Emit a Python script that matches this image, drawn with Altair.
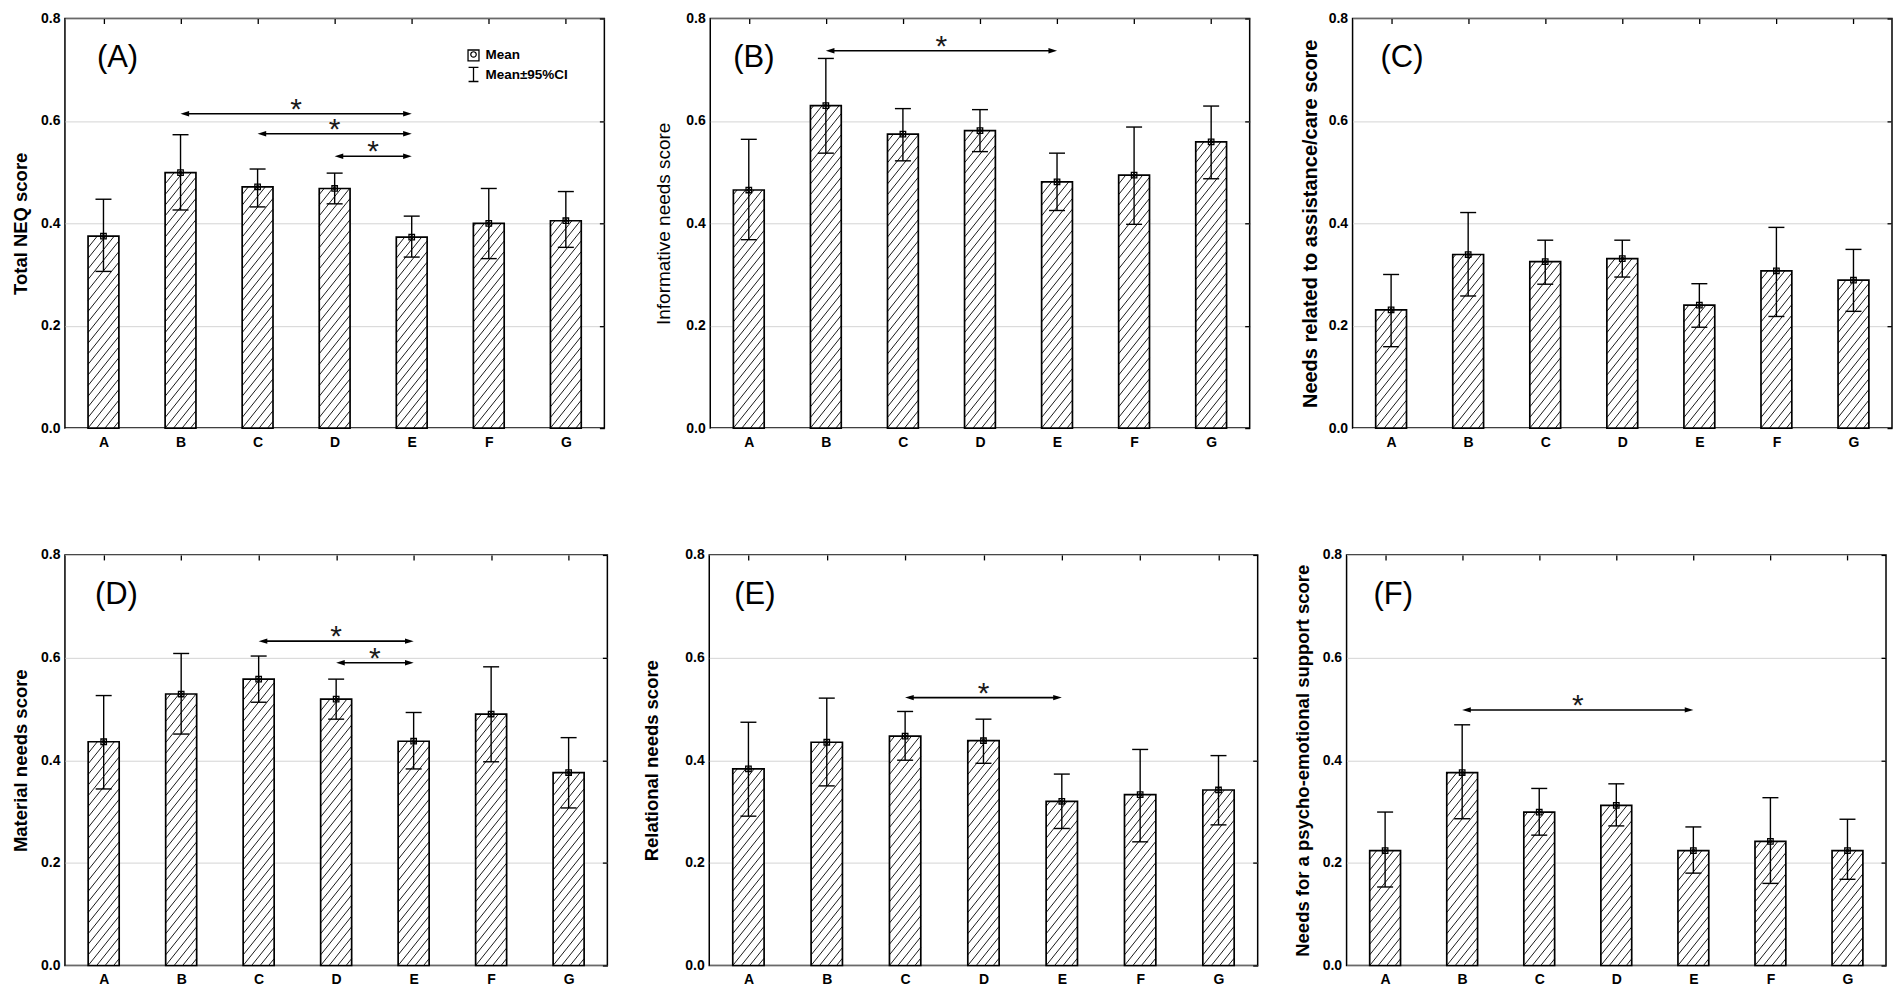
import altair as alt
import pandas as pd
import numpy as np

groups = ["A", "B", "C", "D", "E", "F", "G"]

panel_tags = ["(A)", "(B)", "(C)", "(D)", "(E)", "(F)"]
y_titles = [
    "Total NEQ score",
    "Informative needs score",
    "Needs related to assistance/care score",
    "Material needs score",
    "Relational needs score",
    "Needs for a psycho-emotional support score",
]

mean_total = [0.375, 0.499, 0.471, 0.468, 0.373, 0.400, 0.405]
lo_total = [0.306, 0.426, 0.432, 0.438, 0.334, 0.331, 0.353]
hi_total = [0.447, 0.573, 0.506, 0.498, 0.414, 0.468, 0.462]

mean_info = [0.465, 0.630, 0.574, 0.581, 0.481, 0.494, 0.559]
lo_info = [0.368, 0.537, 0.522, 0.540, 0.425, 0.398, 0.487]
hi_info = [0.564, 0.722, 0.624, 0.622, 0.537, 0.588, 0.629]

mean_care = [0.231, 0.339, 0.325, 0.331, 0.240, 0.307, 0.289]
lo_care = [0.159, 0.258, 0.281, 0.295, 0.197, 0.218, 0.228]
hi_care = [0.300, 0.421, 0.367, 0.367, 0.282, 0.392, 0.349]

mean_mat = [0.436, 0.529, 0.558, 0.519, 0.437, 0.490, 0.376]
lo_mat = [0.344, 0.451, 0.513, 0.480, 0.383, 0.397, 0.307]
hi_mat = [0.526, 0.608, 0.603, 0.558, 0.493, 0.582, 0.444]

mean_rel = [0.383, 0.435, 0.447, 0.438, 0.320, 0.333, 0.342]
lo_rel = [0.291, 0.350, 0.400, 0.394, 0.267, 0.241, 0.274]
hi_rel = [0.474, 0.521, 0.495, 0.480, 0.373, 0.421, 0.409]

mean_psy = [0.224, 0.376, 0.299, 0.312, 0.224, 0.242, 0.224]
lo_psy = [0.153, 0.286, 0.254, 0.272, 0.180, 0.160, 0.168]
hi_psy = [0.299, 0.469, 0.345, 0.354, 0.270, 0.327, 0.285]

# significant comparisons: (from group, to group, arrow height)
sig_total = [("B", "E", 0.614), ("C", "E", 0.575), ("D", "E", 0.531)]
sig_info = [("B", "E", 0.737)]
sig_care = []
sig_mat = [("C", "E", 0.632), ("D", "E", 0.590)]
sig_rel = [("C", "E", 0.522)]
sig_psy = [("B", "E", 0.498)]

legend_labels = ["Mean", "Mean±95%CI"]

FONT = "Liberation Sans"
YMAX = 0.8
BAR_HALF = 0.2
HATCH_K = 1.25
HATCH_SX = 8.5

label_expr = "[" + ",".join("'%s'" % g for g in groups) + "][datum.value]"
xs = alt.Scale(domain=[-0.5, len(groups) - 0.5], nice=False, zero=False)
ys = alt.Scale(domain=[0, YMAX], nice=False)
tick_vals = [0.0, 0.2, 0.4, 0.6, 0.8]

ARROW_L = "M-1,0L1,-0.62L1,0.62Z"
ARROW_R = "M1,0L-1,-0.62L-1,0.62Z"
IBEAM = "M-0.7,-1L0.7,-1M0,-1L0,1M-0.7,1L0.7,1"


def hatch_rows(means, pxx, pxy):
    rows = []
    bw = 2 * BAR_HALF * pxx
    sy = HATCH_SX * HATCH_K
    for i, m in enumerate(means):
        hp = m * pxy
        jmin = int(np.floor(-HATCH_K * bw / sy)) - 1
        jmax = int(np.ceil(hp / sy)) + 1
        for j in range(jmin, jmax + 1):
            c = j * sy
            xa = max(0.0, -c / HATCH_K)
            xb = min(bw, (hp - c) / HATCH_K)
            if xb - xa > 0.4:
                rows.append(dict(
                    xa=i - BAR_HALF + xa / pxx, xb=i - BAR_HALF + xb / pxx,
                    ya=(c + HATCH_K * xa) / pxy, yb=(c + HATCH_K * xb) / pxy))
    return pd.DataFrame(rows)


def panel(k, means, los, his, sigs, tsize, tweight, tpad, tagx, W, H, legend=False):
    pxx = W / len(groups)
    pxy = H / YMAX
    cap_half = 8 / pxx
    head = 4.3 / pxx
    df = pd.DataFrame({"g": groups, "i": list(range(len(groups))),
                       "mean": means, "lo": los, "hi": his})
    df["x0"] = df["i"] - BAR_HALF
    df["x1"] = df["i"] + BAR_HALF
    df["c0"] = df["i"] - cap_half
    df["c1"] = df["i"] + cap_half

    yaxis = alt.Axis(values=tick_vals, format=".1f", title=y_titles[k],
                     titleFontSize=tsize, titleFontWeight=tweight, titleColor="black",
                     titleFont=FONT, titlePadding=tpad,
                     labelFontSize=14, labelFontWeight="bold", labelColor="black",
                     labelFont=FONT, labelPadding=5, ticks=False, domain=False,
                     grid=True, gridColor="#d4d4d4", gridWidth=1)
    xaxis = alt.Axis(values=list(range(len(groups))), labelExpr=label_expr, title=None,
                     labelFontSize=14, labelFontWeight="bold", labelColor="black",
                     labelFont=FONT, labelPadding=7, ticks=False, domain=False, grid=False)

    base = alt.Chart(df)
    bars = base.mark_rect(fill="white", strokeWidth=0).encode(
        x=alt.X("x0:Q", scale=xs, axis=xaxis), x2="x1:Q",
        y=alt.Y("mean:Q", scale=ys, axis=yaxis), y2=alt.datum(0))

    hatch = alt.Chart(hatch_rows(means, pxx, pxy)).mark_rule(
        color="black", strokeWidth=0.9).encode(
        x=alt.X("xa:Q", scale=xs, axis=None), x2="xb:Q",
        y=alt.Y("ya:Q", scale=ys, axis=None), y2="yb:Q")

    outline = base.mark_rect(fill="white", fillOpacity=0, stroke="black",
                             strokeWidth=1.7).encode(
        x=alt.X("x0:Q", scale=xs, axis=None), x2="x1:Q",
        y=alt.Y("mean:Q", scale=ys, axis=None), y2=alt.datum(0))

    err = base.mark_rule(color="black", strokeWidth=1.4).encode(
        x=alt.X("i:Q", scale=xs, axis=alt.Axis(orient="top", values=list(range(len(groups))),
                                                labels=False, domain=False, grid=False,
                                                tickSize=5, offset=-5, tickColor="black",
                                                tickWidth=1.3, title=None)),
        y=alt.Y("lo:Q", scale=ys, axis=alt.Axis(orient="right", values=tick_vals,
                                                 labels=False, domain=False, grid=False,
                                                 tickSize=5, offset=-5, tickColor="black",
                                                 tickWidth=1.3, title=None)),
        y2="hi:Q")
    cap_hi = base.mark_rule(color="black", strokeWidth=1.4).encode(
        x=alt.X("c0:Q", scale=xs, axis=None), x2="c1:Q",
        y=alt.Y("hi:Q", scale=ys, axis=None))
    cap_lo = base.mark_rule(color="black", strokeWidth=1.4).encode(
        x=alt.X("c0:Q", scale=xs, axis=None), x2="c1:Q",
        y=alt.Y("lo:Q", scale=ys, axis=None))
    msq = base.mark_point(shape="square", size=30, filled=False, color="black",
                          strokeWidth=1.3, opacity=1).encode(
        x=alt.X("i:Q", scale=xs, axis=None), y=alt.Y("mean:Q", scale=ys, axis=None))
    mci = base.mark_point(shape="circle", size=10, filled=False, color="black",
                          strokeWidth=1, opacity=1).encode(
        x=alt.X("i:Q", scale=xs, axis=None), y=alt.Y("mean:Q", scale=ys, axis=None))

    tag = alt.Chart(pd.DataFrame({"t": [panel_tags[k]]})).mark_text(
        font=FONT, fontSize=31, align="left", baseline="middle", color="black").encode(
        text="t:N", x=alt.value(tagx), y=alt.value(40))

    layers = [bars, hatch, outline, err, cap_hi, cap_lo, msq, mci, tag]

    if sigs:
        sdf = pd.DataFrame(sigs, columns=["a", "b", "y"])
        sdf["xa"] = [groups.index(a) + head for a in sdf["a"]]
        sdf["xb"] = [groups.index(b) - head for b in sdf["b"]]
        sdf["xm"] = (sdf["xa"] + sdf["xb"]) / 2
        sdf["star"] = "*"
        sb = alt.Chart(sdf)
        layers.append(sb.mark_rule(color="black", strokeWidth=1.6).encode(
            x=alt.X("xa:Q", scale=xs, axis=None), x2="xb:Q",
            y=alt.Y("y:Q", scale=ys, axis=None)))
        layers.append(sb.mark_point(shape=ARROW_L, size=75, filled=True,
                                    color="black", opacity=1).encode(
            x=alt.X("xa:Q", scale=xs, axis=None), y=alt.Y("y:Q", scale=ys, axis=None)))
        layers.append(sb.mark_point(shape=ARROW_R, size=75, filled=True,
                                    color="black", opacity=1).encode(
            x=alt.X("xb:Q", scale=xs, axis=None), y=alt.Y("y:Q", scale=ys, axis=None)))
        layers.append(sb.mark_text(font=FONT, fontSize=30, baseline="alphabetic",
                                   align="center", dy=5, color="#1a1a1a").encode(
            x=alt.X("xm:Q", scale=xs, axis=None), y=alt.Y("y:Q", scale=ys, axis=None),
            text="star:N"))

    if legend:
        ldf = pd.DataFrame({"t": legend_labels})
        l0 = alt.Chart(ldf.iloc[[0]])
        l1 = alt.Chart(ldf.iloc[[1]])
        layers.append(l0.mark_point(
            shape="square", size=120, filled=False, color="black", strokeWidth=1.3,
            opacity=1).encode(x=alt.value(409), y=alt.value(37)))
        layers.append(l0.mark_point(
            shape="circle", size=30, filled=False, color="black", strokeWidth=1.2,
            opacity=1).encode(x=alt.value(409), y=alt.value(36)))
        layers.append(l1.mark_point(
            shape=IBEAM, size=200, filled=False, color="black", strokeWidth=1.3,
            opacity=1).encode(x=alt.value(409), y=alt.value(56)))
        layers.append(l0.mark_text(font=FONT, fontSize=13.5, fontWeight="bold",
                                   align="left", baseline="middle", color="black").encode(
            text="t:N", x=alt.value(421), y=alt.value(37)))
        layers.append(l1.mark_text(font=FONT, fontSize=13.5, fontWeight="bold",
                                   align="left", baseline="middle", color="black").encode(
            text="t:N", x=alt.value(421), y=alt.value(57)))

    return alt.layer(*layers).resolve_axis(x="independent", y="independent").properties(
        width=W, height=H)


pA = panel(0, mean_total, lo_total, hi_total, sig_total, 18.5, "bold", 10, 32, 540, 410,
           legend=True)
pB = panel(1, mean_info, lo_info, hi_info, sig_info, 19, "normal", 12, 23, 540, 410)
pC = panel(2, mean_care, lo_care, hi_care, sig_care, 20, "bold", 8, 28, 540, 410)
pD = panel(3, mean_mat, lo_mat, hi_mat, sig_mat, 18.5, "bold", 10, 30, 543, 411)
pE = panel(4, mean_rel, lo_rel, hi_rel, sig_rel, 18.5, "bold", 23, 25, 549, 411)
pF = panel(5, mean_psy, lo_psy, hi_psy, sig_psy, 18.5, "bold", 10, 27, 540, 411)

chart = alt.vconcat(
    alt.hconcat(pA, pB, pC, spacing=47),
    alt.hconcat(pD, pE, pF, spacing=32),
    spacing=97,
).configure(
    font=FONT, background="white",
    view=alt.ViewConfig(stroke="black", strokeWidth=1.5),
).properties(padding={"left": 2, "top": 2, "right": 0, "bottom": 0})

chart.save("out.html", embed_options={"renderer": "svg", "actions": False})
